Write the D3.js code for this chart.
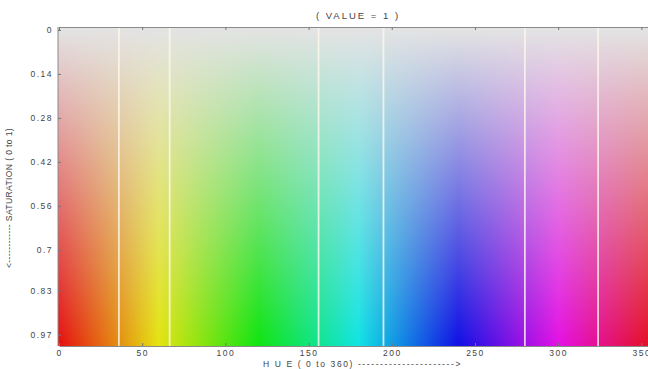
<!DOCTYPE html>
<html>
<head>
<meta charset="utf-8">
<script src="https://cdn.jsdelivr.net/npm/d3@7"></script>
<style>
  body { margin: 0; background: #fff; }
  text { font-family: "Liberation Sans", Arial, sans-serif; fill: #444; }
</style>
</head>
<body>
<svg id="chart" width="648" height="369"></svg>
<script>
// hue along x, saturation down y, value fixed at 1
const hueTicks = [0, 50, 100, 150, 200, 250, 300, 350];
const satTicks = [0, 0.14, 0.28, 0.42, 0.56, 0.7, 0.83, 0.97];
const hueStops = [0, 60, 120, 180, 240, 300, 360];
const satStops = [0, 1];
const hueDividers = [36, 66.5, 156, 195, 280, 324];

const width = 648, height = 369;
const plotLeft = 58, plotTop = 27, plotBottom = 346;

const svg = d3.select("#chart");

const x = d3.scaleLinear().domain([0, 360]).range([59, 658]);
const y = d3.scaleLinear().domain([0, 1]).range([30, 344]);

const defs = svg.append("defs");

// pure hues, slightly muted like the photo
const hueGrad = defs.append("linearGradient")
  .attr("id", "hueGrad")
  .attr("gradientUnits", "userSpaceOnUse")
  .attr("x1", x(0)).attr("x2", x(360))
  .attr("y1", 0).attr("y2", 0);
hueGrad.selectAll("stop")
  .data(hueStops)
  .enter().append("stop")
  .attr("offset", d => d / 360)
  .attr("stop-color", d => d3.hsl(d, 0.86, 0.48).formatHex());

// low saturation fades to light grey at the top
const satGrad = defs.append("linearGradient")
  .attr("id", "satGrad")
  .attr("gradientUnits", "userSpaceOnUse")
  .attr("x1", 0).attr("x2", 0)
  .attr("y1", y(0)).attr("y2", y(1));
satGrad.selectAll("stop")
  .data(satStops)
  .enter().append("stop")
  .attr("offset", d => d)
  .attr("stop-color", "#e3e3e3")
  .attr("stop-opacity", d => 1 - d);

svg.append("rect")
  .attr("x", plotLeft).attr("y", plotTop)
  .attr("width", width - plotLeft).attr("height", plotBottom - plotTop)
  .attr("fill", "url(#hueGrad)");

svg.append("rect")
  .attr("x", plotLeft).attr("y", plotTop)
  .attr("width", width - plotLeft).attr("height", plotBottom - plotTop)
  .attr("fill", "url(#satGrad)");

// white divider lines
svg.selectAll(".divider")
  .data(hueDividers)
  .enter().append("line")
  .attr("class", "divider")
  .attr("x1", d => x(d)).attr("x2", d => x(d))
  .attr("y1", plotTop).attr("y2", plotBottom)
  .attr("stroke", "#fff8ec")
  .attr("stroke-opacity", 0.8)
  .attr("stroke-width", 1.8);

// axes, ticks pointing inward
const xAxis = svg.append("g")
  .attr("transform", "translate(0," + plotBottom + ")")
  .call(d3.axisBottom(x).tickValues(hueTicks).tickSizeInner(-3).tickSizeOuter(0).tickPadding(4));

const xTop = svg.append("g")
  .attr("transform", "translate(0," + plotTop + ")")
  .call(d3.axisTop(x).tickValues(hueTicks).tickSizeInner(-3).tickSizeOuter(0).tickFormat(""));

const yAxis = svg.append("g")
  .attr("transform", "translate(" + plotLeft + ",0)")
  .call(d3.axisLeft(y).tickValues(satTicks).tickSizeInner(-3).tickSizeOuter(0).tickPadding(5)
    .tickFormat(d => String(d)));

[xAxis, xTop, yAxis].forEach(g => {
  g.select(".domain").attr("stroke", "#8a8a8a");
  g.selectAll(".tick line").attr("stroke", "#777");
  g.selectAll("text")
    .style("font-family", "'Liberation Sans', Arial, sans-serif")
    .style("font-size", "8.5px")
    .style("letter-spacing", "1.5px")
    .attr("fill", "#505050");
});
yAxis.select(".domain").attr("d", "M0," + plotTop + "V" + plotBottom);

// title and axis labels
svg.append("text")
  .attr("x", 358).attr("y", 19)
  .attr("text-anchor", "middle")
  .style("font-size", "9.5px")
  .style("letter-spacing", "2px")
  .text("( VALUE = 1 )");

svg.append("text")
  .attr("x", 263).attr("y", 367)
  .style("font-size", "8.5px")
  .style("letter-spacing", "1.6px")
  .text("H U E ( 0 to 360) ---------------------->");

svg.append("text")
  .attr("transform", "translate(12,198) rotate(-90)")
  .attr("text-anchor", "middle")
  .style("font-size", "8.5px")
  .style("letter-spacing", "0.4px")
  .text("<------------ SATURATION ( 0 to 1)");
</script>
</body>
</html>
